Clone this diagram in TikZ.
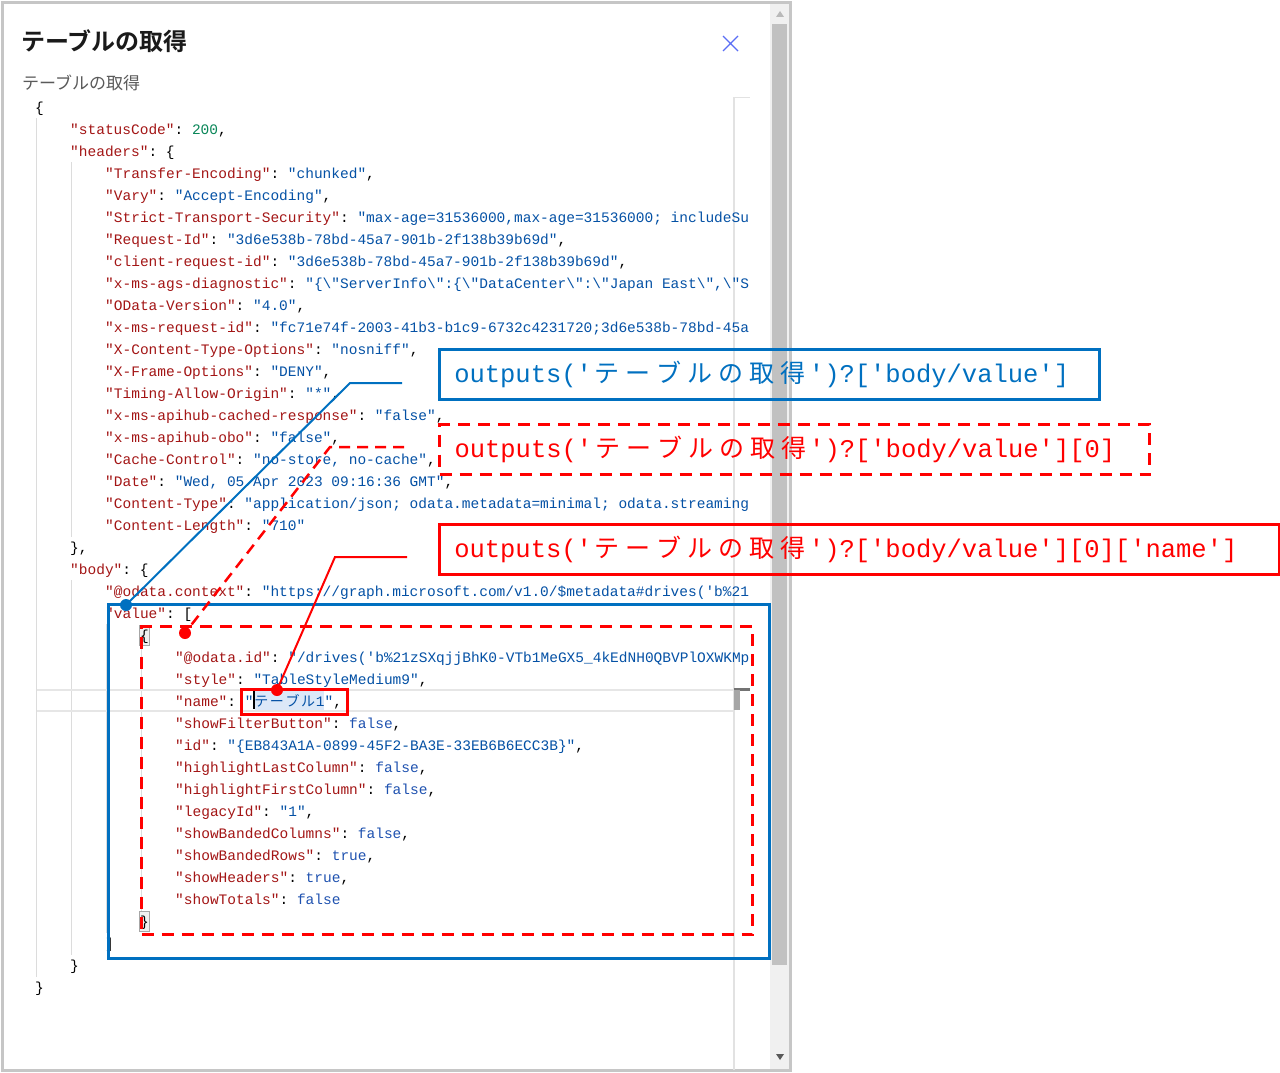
\documentclass[tikz,border=0pt]{standalone}
\usepackage{fontspec}
\setmonofont{Liberation Mono}
\newfontfamily\jpfont{Noto Sans CJK JP}[BoldFont={Noto Sans CJK JP Bold}]
\definecolor{keyc}{HTML}{A31515}
\definecolor{strc}{HTML}{0451A5}
\definecolor{numc}{HTML}{098658}
\definecolor{boolc}{HTML}{1F52B0}
\definecolor{annblue}{HTML}{0070C0}
\definecolor{annred}{HTML}{FF0000}
\definecolor{guidec}{HTML}{DCDCDC}
\definecolor{rulec}{HTML}{E2E2E2}
\definecolor{curline}{HTML}{E6E6E6}
\definecolor{selblue}{HTML}{DCE8F8}
\definecolor{xblue}{HTML}{5A6EF5}
\definecolor{panelborder}{HTML}{C6C6C6}
\definecolor{trackc}{HTML}{F0F0F0}
\definecolor{thumbc}{HTML}{C1C1C1}
\definecolor{subgray}{HTML}{5A5A5A}
\definecolor{titlec}{HTML}{1A1A1A}
\newcommand\jk[1]{\textcolor{keyc}{#1}}
\newcommand\js[1]{\textcolor{strc}{#1}}
\newcommand\jn[1]{\textcolor{numc}{#1}}
\newcommand\jbo[1]{\textcolor{boolc}{#1}}
\newcommand\cjc[1]{\makebox[15.6pt]{\fontsize{14}{14}\selectfont\jpfont #1}}
\newcommand\cja[1]{\makebox[31pt]{\fontsize{25}{25}\selectfont\jpfont #1}}
\newcommand\tgt{\cja{テ}\cja{ー}\cja{ブ}\cja{ル}\cja{の}\cja{取}\cja{得}}
\begin{document}
\begin{tikzpicture}[x=1pt,y=-1pt,
  code/.style={anchor=base west, inner sep=0pt, font=\fontsize{14.5}{16}\selectfont\ttfamily},
  ann/.style={anchor=north west, inner xsep=15pt, inner ysep=0pt, align=left,
    minimum height=50pt, font=\fontsize{25.5}{28}\selectfont\ttfamily},
  dotn/.style={circle, inner sep=0pt, minimum size=12pt},
  guide/.style={guidec, line width=1pt},
  reddash/.style={dash pattern=on 12pt off 8pt}]
\useasboundingbox (0,0) rectangle (1280,1073);
\fill[white] (0,0) rectangle (1280,1073);
% panel
\fill[trackc] (770,4) rectangle (789,1069);
\fill[thumbc] (772,24) rectangle (787,965);
\fill[gray!55] (776,17) -- (784,17) -- (780,11) -- cycle;
\fill[black!65] (776,1054) -- (784,1054) -- (780,1060) -- cycle;
\draw[panelborder, line width=3pt] (2.5,2.5) rectangle (790.5,1070.5);
% title
\node[anchor=base west, inner sep=0pt, text=titlec, font=\fontsize{24}{24}\selectfont\jpfont\bfseries] (title) at (21,51) {テーブルの取得};
\node[anchor=base west, inner sep=0pt, text=subgray, font=\fontsize{17}{17}\selectfont\jpfont] (subtitle) at (22,89.5) {テーブルの取得};
\draw[xblue, line width=1.3pt] (723,36) -- (738,51) (723,51) -- (738,36);
% editor decorations
\draw[rulec, line width=1.2pt] (734,97) -- (734,1070);
\draw[rulec, line width=1pt] (734,97) -- (750,97);
\draw[guide] (36,118) -- (36,977);
\draw[guide] (71,162) -- (71,537);
\draw[guide] (71,580) -- (71,955);
\draw[guide] (106,624) -- (106,933);
\draw[guide] (141,646) -- (141,911);
\draw[curline, line width=1.5pt] (37,690) -- (733,690) (37,711) -- (733,711);
\fill[black!55] (734,688) rectangle (750,690.5);
\fill[black!35] (734,690) rectangle (740,710);
\fill[selblue] (255,691) rectangle (324,710);
\filldraw[fill=black!6, draw=black!35, line width=0.8pt] (139,625) rectangle (149,645);
\filldraw[fill=black!6, draw=black!35, line width=0.8pt] (139,911) rectangle (149,931);
% code
\node[code] (l1) at (35,112) {\{};
\node[code] (l2) at (70,134) {\jk{"statusCode"}: \jn{200},};
\node[code] (l3) at (70,156) {\jk{"headers"}: \{};
\node[code] (l4) at (105,178) {\jk{"Transfer-Encoding"}: \js{"chunked"},};
\node[code] (l5) at (105,200) {\jk{"Vary"}: \js{"Accept-Encoding"},};
\node[code] (l6) at (105,222) {\jk{"Strict-Transport-Security"}: \js{"max-age=31536000,max-age=31536000; includeSu}};
\node[code] (l7) at (105,244) {\jk{"Request-Id"}: \js{"3d6e538b-78bd-45a7-901b-2f138b39b69d"},};
\node[code] (l8) at (105,266) {\jk{"client-request-id"}: \js{"3d6e538b-78bd-45a7-901b-2f138b39b69d"},};
\node[code] (l9) at (105,288) {\jk{"x-ms-ags-diagnostic"}: \js{"\{\textbackslash"ServerInfo\textbackslash":\{\textbackslash"DataCenter\textbackslash":\textbackslash"Japan East\textbackslash",\textbackslash"S}};
\node[code] (l10) at (105,310) {\jk{"OData-Version"}: \js{"4.0"},};
\node[code] (l11) at (105,332) {\jk{"x-ms-request-id"}: \js{"fc71e74f-2003-41b3-b1c9-6732c4231720;3d6e538b-78bd-45a}};
\node[code] (l12) at (105,354) {\jk{"X-Content-Type-Options"}: \js{"nosniff"},};
\node[code] (l13) at (105,376) {\jk{"X-Frame-Options"}: \js{"DENY"},};
\node[code] (l14) at (105,398) {\jk{"Timing-Allow-Origin"}: \js{"*"},};
\node[code] (l15) at (105,420) {\jk{"x-ms-apihub-cached-response"}: \js{"false"},};
\node[code] (l16) at (105,442) {\jk{"x-ms-apihub-obo"}: \js{"false"},};
\node[code] (l17) at (105,464) {\jk{"Cache-Control"}: \js{"no-store, no-cache"},};
\node[code] (l18) at (105,486) {\jk{"Date"}: \js{"Wed, 05 Apr 2023 09:16:36 GMT"},};
\node[code] (l19) at (105,508) {\jk{"Content-Type"}: \js{"application/json; odata.metadata=minimal; odata.streaming}};
\node[code] (l20) at (105,530) {\jk{"Content-Length"}: \js{"710"}};
\node[code] (l21) at (70,552) {\},};
\node[code] (l22) at (70,574) {\jk{"body"}: \{};
\node[code] (l23) at (105,596) {\jk{"@odata.context"}: \js{"https://graph.microsoft.com/v1.0/\$metadata\#drives('b\%21}};
\node[code] (l24) at (105,618) {\jk{"value"}: [};
\node[code] (l25) at (140,640) {\{};
\node[code] (l26) at (175,662) {\jk{"@odata.id"}: \js{"/drives('b\%21zSXqjjBhK0-VTb1MeGX5\_4kEdNH0QBVPlOXWKMp}};
\node[code] (l27) at (175,684) {\jk{"style"}: \js{"TableStyleMedium9"},};
\node[code] (l28) at (175,706) {\jk{"name"}: \js{"\cjc{テ}\cjc{ー}\cjc{ブ}\cjc{ル}1"},};
\node[code] (l29) at (175,728) {\jk{"showFilterButton"}: \jbo{false},};
\node[code] (l30) at (175,750) {\jk{"id"}: \js{"\{EB843A1A-0899-45F2-BA3E-33EB6B6ECC3B\}"},};
\node[code] (l31) at (175,772) {\jk{"highlightLastColumn"}: \jbo{false},};
\node[code] (l32) at (175,794) {\jk{"highlightFirstColumn"}: \jbo{false},};
\node[code] (l33) at (175,816) {\jk{"legacyId"}: \js{"1"},};
\node[code] (l34) at (175,838) {\jk{"showBandedColumns"}: \jbo{false},};
\node[code] (l35) at (175,860) {\jk{"showBandedRows"}: \jbo{true},};
\node[code] (l36) at (175,882) {\jk{"showHeaders"}: \jbo{true},};
\node[code] (l37) at (175,904) {\jk{"showTotals"}: \jbo{false}};
\node[code] (l38) at (140,926) {\}};
\node[code] (l39) at (105,948) {]};
\node[code] (l40) at (70,970) {\}};
\node[code] (l41) at (35,992) {\}};
\draw[black, line width=1.5pt] (254,691) -- (254,709);
% highlight boxes
\node[draw=annblue, line width=2.5pt, anchor=north west, inner sep=0pt, minimum width=661pt, minimum height=354pt] (valbox) at (107,603) {};
\node[draw=annred, reddash, line width=3pt, anchor=north west, inner sep=0pt, minimum width=611pt, minimum height=308pt] (itembox) at (140,625) {};
\node[draw=annred, line width=2.5pt, anchor=north west, inner sep=0pt, minimum width=106pt, minimum height=25pt] (namebox) at (240,688) {};
% annotations
\node[ann, draw=annblue, line width=2.5pt, text=annblue, text width=630pt] (a1) at (438,348) {outputs('\tgt')?['body/value']};
\node[ann, draw=annred, reddash, line width=3pt, text=annred, text width=680pt] (a2) at (438,423) {outputs('\tgt')?['body/value'][0]};
\node[ann, draw=annred, line width=2.5pt, text=annred, text width=810pt] (a3) at (438,523) {outputs('\tgt')?['body/value'][0]['name']};
% dots
\node[dotn, fill=annblue] (d1) at (126,605) {};
\node[dotn, fill=annred] (d2) at (185,633) {};
\node[dotn, fill=annred] (d3) at (277,690) {};
% connectors
\coordinate (c1a) at (402,383);
\coordinate (c1b) at (350,383);
\coordinate (c2a) at (404,447);
\coordinate (c2b) at (330,447);
\coordinate (c3a) at (407,557);
\coordinate (c3b) at (335,557);
\draw[annblue, line width=2pt] (c1a) -- (c1b) -- (d1.center);
\draw[annred, line width=2.5pt, dash pattern=on 11pt off 7pt] (c2a) -- (c2b) -- (d2.center);
\draw[annred, line width=2pt] (c3a) -- (c3b) -- (d3.center);
\end{tikzpicture}
\end{document}
